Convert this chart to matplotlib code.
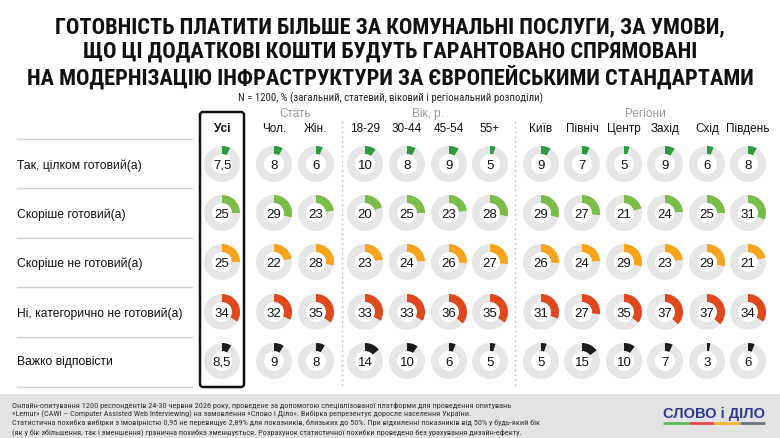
import matplotlib
matplotlib.use('Agg')
import matplotlib.pyplot as plt
from matplotlib import font_manager
from matplotlib.patches import Wedge, FancyBboxPatch, Rectangle

# дані
title_lines = [
    'ГОТОВНІСТЬ ПЛАТИТИ БІЛЬШЕ ЗА КОМУНАЛЬНІ ПОСЛУГИ, ЗА УМОВИ,',
    'ЩО ЦІ ДОДАТКОВІ КОШТИ БУДУТЬ ГАРАНТОВАНО СПРЯМОВАНІ',
    'НА МОДЕРНІЗАЦІЮ ІНФРАСТРУКТУРИ ЗА ЄВРОПЕЙСЬКИМИ СТАНДАРТАМИ',
]
subtitle = 'N = 1200, % (загальний, статевий, віковий і регіональний розподіли)'
columns = ['Усі', 'Чол.', 'Жін.', '18-29', '30-44', '45-54', '55+',
           'Київ', 'Північ', 'Центр', 'Захід', 'Схід', 'Південь']
groups = ['Стать', 'Вік, р.', 'Регіони']
answers = ['Так, цілком готовий(а)', 'Скоріше готовий(а)', 'Скоріше не готовий(а)',
           'Ні, категорично не готовий(а)', 'Важко відповісти']
fully_ready = [7.5, 8, 6, 10, 8, 9, 5, 9, 7, 5, 9, 6, 8]
rather_ready = [25, 29, 23, 20, 25, 23, 28, 29, 27, 21, 24, 25, 31]
rather_not = [25, 22, 28, 23, 24, 26, 27, 26, 24, 29, 23, 29, 21]
not_ready = [34, 32, 35, 33, 33, 36, 35, 31, 27, 35, 37, 37, 34]
hard_to_say = [8.5, 9, 8, 14, 10, 6, 5, 5, 15, 10, 7, 3, 6]
footer = [
    'Онлайн-опитування 1200 респондентів 24-30 червня 2026 року, проведене за допомогою спеціалізованої платформи для проведення опитувань',
    '«Lemur» (CAWI – Computer Assisted Web Interviewing) на замовлення «Слово і Діло». Вибірка репрезентує доросле населення України.',
    'Статистична похибка вибірки з імовірністю 0,95 не перевищує 2,89% для показників, близьких до 50%. При відхиленні показників від 50% у будь-який бік',
    '(як у бік збільшення, так і зменшення) гранична похибка зменшується. Розрахунок статистичної похибки проведено без урахування дизайн-ефекту.',
]

series = [fully_ready, rather_ready, rather_not, not_ready, hard_to_say]
colors = ['#2e9a44', '#7cbd4a', '#f9a51b', '#e0481e', '#1c1c1c']

# розмітка (пікселі)
col_x = [222, 274, 316, 365, 407, 449, 490, 541, 582, 624, 665, 707, 748]
row_y = [165, 214, 263, 313, 362]
group_x = [295, 428, 645]
R_OUT, RING = 18, 8

plt.rcParams['font.family'] = ['Liberation Sans', 'DejaVu Sans']

# вузький шрифт, якщо він є
names = {f.name for f in font_manager.fontManager.ttflist}
narrow = [n for n in ['Liberation Sans Narrow', 'DejaVu Sans Condensed', 'Roboto Condensed']
          if n in names]
narrow += sorted(n for n in names if ('Narrow' in n or 'Condensed' in n) and n not in narrow)
NARROW = narrow[:1] + ['Liberation Sans', 'DejaVu Sans']

fig = plt.figure(figsize=(7.8, 4.39), dpi=100)
ax = fig.add_axes([0, 0, 1, 1])
ax.set_xlim(0, 780)
ax.set_ylim(439, 0)
ax.axis('off')
renderer = fig.canvas.get_renderer()


def fit_width(txt, width):
    """ підганяє розмір шрифту під ширину в пікселях """
    w = txt.get_window_extent(renderer).width
    txt.set_fontsize(txt.get_fontsize() * width / w)


# заголовок
titles = []
for i, line in enumerate(title_lines):
    titles.append(ax.text(390, 27 + i * 25, line, ha='center', va='center', fontsize=16,
                          fontweight='bold', family=NARROW, color='#111111'))
fit_width(titles[2], 727)
for t in titles[:2]:
    t.set_fontsize(titles[2].get_fontsize())
sub = ax.text(390, 98, subtitle, ha='center', va='center', fontsize=7, family=NARROW,
              color='#222222')
fit_width(sub, 306)

# шапка таблиці
for gx, g in zip(group_x, groups):
    ax.text(gx, 114, g, ha='center', va='center', fontsize=8.5, color='#9a9a9a')
for i, (cx, c) in enumerate(zip(col_x, columns)):
    ax.text(cx, 129, c, ha='center', va='center', fontsize=8.5, color='#111111',
            fontweight='bold' if i == 0 else 'normal')

# рамка "Усі"
ax.add_patch(FancyBboxPatch((200, 113), 44, 275, boxstyle='round,pad=0,rounding_size=3',
                            fill=False, lw=1.8, ec='#111111', zorder=3))
# роздільники груп
for sx in [342, 515]:
    ax.plot([sx, sx], [122, 388], ls=(0, (1.5, 2)), color='#c8c8c8', lw=1)

# рядки
for yl in [140, 189, 239, 288, 338, 388]:
    ax.plot([17, 192], [yl, yl], color='#d0d0d0', lw=1)
for r, (ry, label) in enumerate(zip(row_y, answers)):
    ax.text(17, ry + 0.5, label, ha='left', va='center', fontsize=8.7, color='#111111')
    for cx, v in zip(col_x, series[r]):
        ax.add_patch(Wedge((cx, ry), R_OUT, 0, 360, width=RING, color='#e6e6e6', lw=0))
        ax.add_patch(Wedge((cx, ry), R_OUT, -90, -90 + v * 3.6, width=RING,
                           color=colors[r], lw=0))
        lbl = ('%g' % v).replace('.', ',')
        ax.text(cx, ry + 1, lbl, ha='center', va='center', fontsize=9.5, color='#111111')

# підвал
ax.add_patch(Rectangle((0, 395), 780, 44, color='#e3e3e3', lw=0))
foots = []
for i, line in enumerate(footer):
    foots.append(ax.text(12, 405 + i * 9, line, ha='left', va='center', fontsize=5.5,
                         family=NARROW, color='#333333'))
fit_width(foots[2], 530)
for t in foots:
    t.set_fontsize(foots[2].get_fontsize())

# логотип
logo = ax.text(714, 414, 'СЛОВО і ДІЛО', ha='center', va='center', fontsize=11.5,
               fontweight='bold', color='#2b3990')
fit_width(logo, 102)
logo_cols = ['#5cb85c', '#e5484d', '#f2b535', '#6b7280']
for k, lc in enumerate(logo_cols):
    ax.plot([663 + k * 25.5, 663 + (k + 1) * 25.5], [424, 424], color=lc, lw=2,
            solid_capstyle='butt')

fig.savefig('out.png', dpi=100)
